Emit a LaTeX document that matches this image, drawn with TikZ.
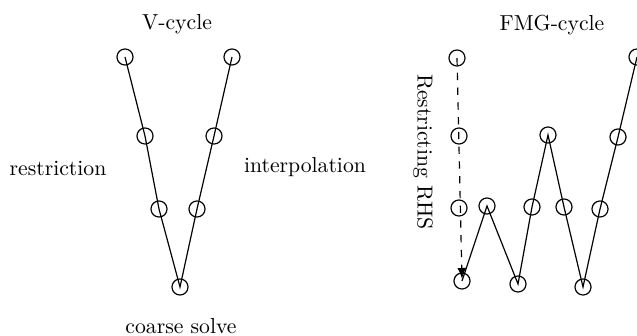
\documentclass[tikz,border=0pt]{standalone}
\usetikzlibrary{arrows.meta}
\begin{document}
\begin{tikzpicture}[x=0.4608pt,y=-0.4608pt,
  pt/.style={draw,circle,minimum size=7.4pt,inner sep=0pt,line width=0.55pt},
  lnk/.style={line width=0.55pt},
  lbl/.style={inner sep=0pt,font=\normalsize}]
\useasboundingbox (0,0) rectangle (637,335);
\clip (0,0) rectangle (637,335);
% V-cycle
\node[pt] (a1) at (125,57) {};
\node[pt] (a2) at (145,136) {};
\node[pt] (a3) at (159,209) {};
\node[pt] (a4) at (180,287) {};
\node[pt] (a5) at (197,209) {};
\node[pt] (a6) at (214,136) {};
\node[pt] (a7) at (232,57) {};
\draw[lnk] (a1.center) -- (a2.center) -- (a3.center) -- (a4.center) -- (a5.center) -- (a6.center) -- (a7.center);
\node[lbl] (tv) at (177,24) {V-cycle};
\node[lbl] (tc) at (181,326) {coarse solve};
\node[lbl] (tr) at (58,168) {restriction};
\node[lbl] (ti) at (305,167) {interpolation};
% FMG-cycle
\node[pt] (b1) at (457,58) {};
\node[pt] (b2) at (459,136) {};
\node[pt] (b3) at (459,208) {};
\node[pt] (b4) at (462,281) {};
\node[pt] (c1) at (487,206) {};
\node[pt] (c2) at (518,284) {};
\node[pt] (c3) at (532,207) {};
\node[pt] (c4) at (548,135) {};
\node[pt] (c5) at (564,207) {};
\node[pt] (c6) at (583,287) {};
\node[pt] (c7) at (600,209) {};
\node[pt] (c8) at (618,137) {};
\node[pt] (c9) at (637,57) {};
\draw[lnk,dash pattern=on 3.4pt off 3.4pt,-{Latex[length=5pt,width=4pt]},shorten >=1pt] (b1.center) -- (b4.center);
\draw[lnk] (b4.center) -- (c1.center) -- (c2.center) -- (c3.center) -- (c4.center) -- (c5.center) -- (c6.center) -- (c7.center) -- (c8.center) -- (c9.center);
\node[lbl] (tf) at (552,25) {FMG-cycle};
\node[lbl,rotate=-90] (trh) at (423,152) {Restricting RHS};
\end{tikzpicture}
\end{document}
